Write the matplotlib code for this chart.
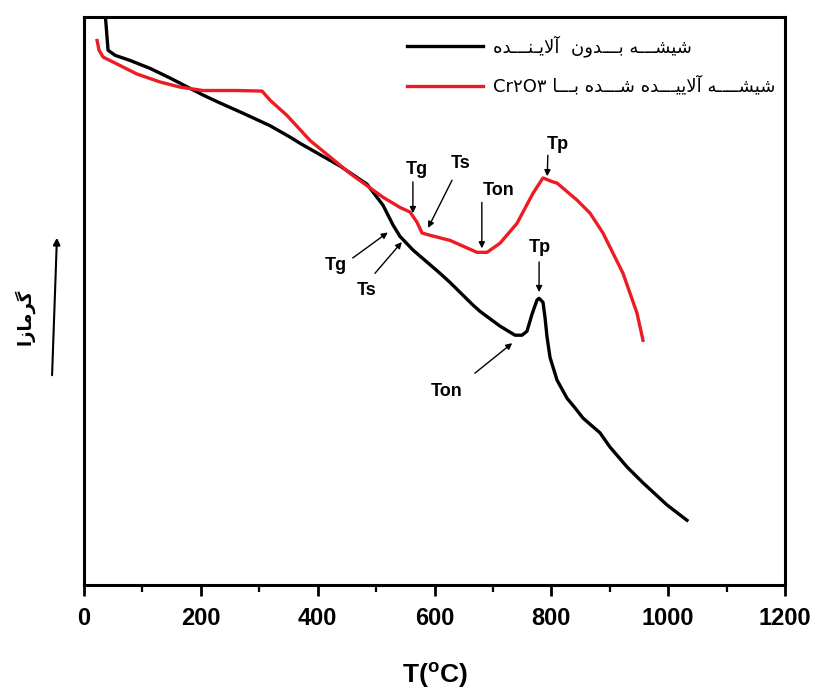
import numpy as np
import matplotlib
matplotlib.use("Agg")
import matplotlib.pyplot as plt
from matplotlib.patches import FancyArrowPatch
from matplotlib.ticker import MultipleLocator

# ---- DTA traces (temperature in degC, heat flow in arbitrary units) ----
t_undoped = [35.9, 41.1, 53.1, 78.7, 113.0, 147.2, 203.7, 232.8, 272.2, 318.4,
             352.6, 369.8, 438.2, 484.4, 511.8, 529.0, 540.9, 563.2, 609.4, 626.5,
             665.9, 677.9, 712.1, 737.8, 749.8, 758.3, 766.9, 775.5, 778.9, 785.7,
             789.1, 792.6, 797.7, 809.7, 826.8, 840.5, 854.2, 883.3, 900.4, 929.5,
             956.9, 998.0, 1032.2]
q_undoped = [101.0, 94.2, 93.3, 92.4, 91.0, 89.3, 86.3, 84.9, 83.1, 80.9,
             78.9, 77.8, 73.8, 70.6, 66.9, 63.4, 61.4, 59.0, 54.9, 53.3,
             49.3, 48.2, 45.6, 44.0, 44.0, 44.7, 47.7, 50.2, 50.5, 49.8,
             47.2, 43.7, 40.1, 36.1, 32.9, 31.2, 29.4, 26.8, 24.3, 20.8,
             18.0, 14.1, 11.4]

t_doped = [22.3, 25.7, 32.5, 61.6, 90.7, 130.1, 164.3, 203.7, 261.9, 304.7,
           318.4, 347.5, 386.9, 455.3, 511.8, 540.9, 558.1, 570.0, 578.6, 592.3,
           626.5, 672.7, 689.9, 712.1, 741.2, 768.6, 785.7, 802.8, 809.7, 843.9,
           866.2, 888.4, 922.7, 946.6, 956.9]
q_doped = [95.9, 94.2, 93.0, 91.5, 90.0, 88.6, 87.7, 87.1, 87.1, 87.0,
           85.4, 82.7, 78.3, 72.5, 68.3, 66.5, 65.7, 63.9, 62.0, 61.6,
           60.7, 58.6, 58.6, 60.2, 63.7, 69.0, 71.7, 71.0, 70.8, 67.8,
           65.5, 62.0, 54.9, 47.9, 43.1]

x_ticks = [0, 200, 400, 600, 800, 1000, 1200]

# characteristic temperatures: (label, label position, arrow tail, arrow tip)
marks_doped = [
    ("Tg", (570, 73.1), (563, 71.0), (563, 65.5)),
    ("Ts", (644, 74.3), (630, 71.3), (589, 62.9)),
    ("Ton", (709, 69.4), (681, 67.4), (681, 59.3)),
    ("Tp", (811, 77.6), (794, 75.7), (793, 72.0)),
]
marks_undoped = [
    ("Tg", (431, 56.3), (460, 57.6), (520, 62.1)),
    ("Ts", (483, 51.9), (498, 54.9), (544, 60.4)),
    ("Tp", (781, 59.5), (779, 56.9), (779, 51.6)),
    ("Ton", (621, 34.0), (669, 37.3), (733, 42.6)),
]

# ---- minimal Persian shaping (presentation forms + right-to-left order) ----
FORMS = {
    '\u0627': ('\uFE8D', '\uFE8E', None, None),
    '\u0622': ('\uFE81', '\uFE82', None, None),
    '\u0628': ('\uFE8F', '\uFE90', '\uFE91', '\uFE92'),
    '\u062F': ('\uFEA9', '\uFEAA', None, None),
    '\u0631': ('\uFEAD', '\uFEAE', None, None),
    '\u0632': ('\uFEAF', '\uFEB0', None, None),
    '\u0634': ('\uFEB5', '\uFEB6', '\uFEB7', '\uFEB8'),
    '\u0644': ('\uFEDD', '\uFEDE', '\uFEDF', '\uFEE0'),
    '\u0645': ('\uFEE1', '\uFEE2', '\uFEE3', '\uFEE4'),
    '\u0646': ('\uFEE5', '\uFEE6', '\uFEE7', '\uFEE8'),
    '\u0647': ('\uFEE9', '\uFEEA', '\uFEEB', '\uFEEC'),
    '\u0648': ('\uFEED', '\uFEEE', None, None),
    '\u06CC': ('\uFBFC', '\uFBFD', '\uFBFE', '\uFBFF'),
    '\u06AF': ('\uFB92', '\uFB93', '\uFB94', '\uFB95'),
    '\u0640': ('\u0640', '\u0640', '\u0640', '\u0640'),
}
LAM_ALEF = {'\u0627': ('\uFEFB', '\uFEFC', None, None),
            '\u0622': ('\uFEF5', '\uFEF6', None, None)}


def rtl(text):
    tokens = []
    i = 0
    while i < len(text):
        c = text[i]
        if c == '\u0644' and i + 1 < len(text) and text[i + 1] in LAM_ALEF:
            tokens.append(LAM_ALEF[text[i + 1]])
            i += 2
            continue
        tokens.append(FORMS.get(c, (c, None, None, None)))
        i += 1

    def joining(f):
        return f is not None and f[1] is not None

    def dual(f):
        return f is not None and f[2] is not None

    out = []
    for k, f in enumerate(tokens):
        prev = tokens[k - 1] if k > 0 else None
        nxt = tokens[k + 1] if k + 1 < len(tokens) else None
        jp = joining(f) and dual(prev)
        jn = dual(f) and joining(nxt)
        if jp and jn:
            out.append(f[3])
        elif jp:
            out.append(f[1])
        elif jn:
            out.append(f[2])
        else:
            out.append(f[0])
    return ''.join(reversed(out))


label_undoped = rtl('شیشـــه بـــدون  آلایـنـــده')
label_doped = 'Cr۲O۳ ' + rtl('شیشــــه آلاییـــده شـــده بـــا')
label_y = rtl('گرمازا')

# ---- figure ----
plt.rcParams['font.family'] = ['Liberation Sans', 'DejaVu Sans']
plt.rcParams['mathtext.fontset'] = 'custom'
plt.rcParams['mathtext.rm'] = 'Liberation Sans'
plt.rcParams['mathtext.bf'] = 'Liberation Sans:bold'

fig = plt.figure(figsize=(8.16, 6.91), dpi=100)
ax = fig.add_axes([0.103, 0.1534, 0.859, 0.8216])

ax.plot(t_undoped, q_undoped, color='black', lw=2.4, label=label_undoped,
        solid_joinstyle='round')
ax.plot(t_doped, q_doped, color='#ec1c24', lw=2.4, label=label_doped,
        solid_joinstyle='round')

ax.set_xlim(0, 1200)
ax.set_ylim(0, 100)
ax.set_xticks(x_ticks)
ax.set_xticklabels([str(v) for v in x_ticks], fontsize=17, fontweight='bold')
ax.xaxis.set_minor_locator(MultipleLocator(100))
ax.tick_params(axis='x', which='major', direction='out', length=8, width=2, pad=8)
ax.tick_params(axis='x', which='minor', direction='out', length=5, width=1.6)
ax.set_yticks([])
for s in ax.spines.values():
    s.set_linewidth(2.2)

ax.set_xlabel(r'$\mathbf{T(^{o}C)}$', fontsize=19, labelpad=22)

arrow_kw = dict(arrowstyle='-|>', color='black', lw=1.0, mutation_scale=9,
                shrinkA=0, shrinkB=0)
for name, pos, tail, tip in marks_doped + marks_undoped:
    ax.annotate('', xy=tip, xytext=tail, arrowprops=arrow_kw)
    ax.text(pos[0], pos[1], name, fontsize=13, fontweight='bold',
            ha='center', va='center')

leg = ax.legend(loc='upper left', bbox_to_anchor=(0.461, 0.968), frameon=False,
                handlelength=4.2, handletextpad=0.55, labelspacing=1.05,
                borderaxespad=0, borderpad=0,
                prop={'family': ['DejaVu Sans'], 'size': 13})

fig.text(0.030, 0.542, label_y, rotation=90, fontsize=13, fontweight='bold',
         family=['DejaVu Sans'], ha='center', va='center')
fig.add_artist(FancyArrowPatch((0.0637, 0.453), (0.0699, 0.660),
                               transform=fig.transFigure, arrowstyle='-|>',
                               mutation_scale=10, lw=1.5, color='black'))

fig.savefig('out.png', dpi=100)
